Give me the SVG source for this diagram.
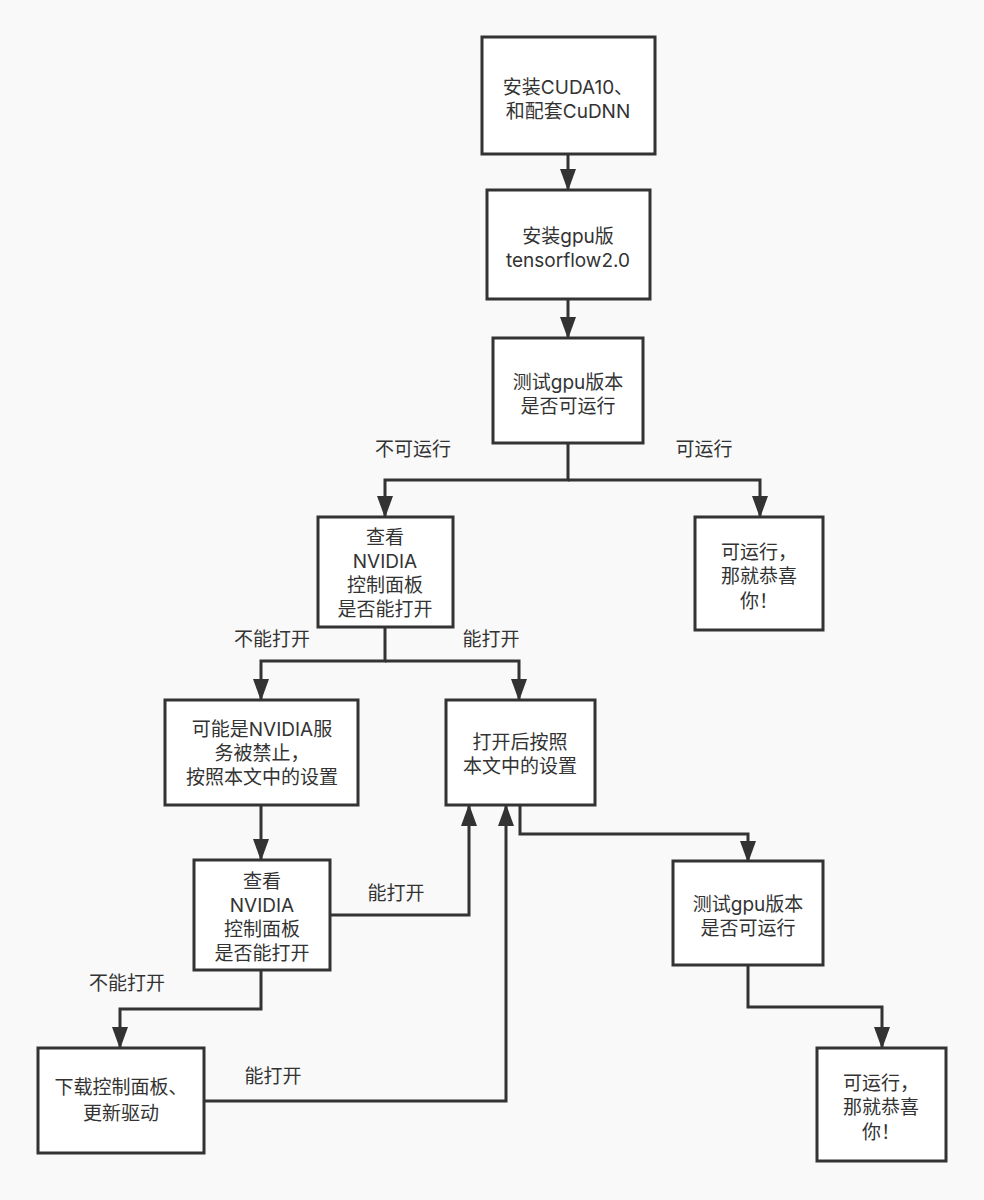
<svg xmlns="http://www.w3.org/2000/svg" width="984" height="1200" viewBox="0 0 984 1200">
<style>
.box{fill:#ffffff;stroke:#333333;stroke-width:3}
.t{font-family:Inter,"Noto Sans CJK SC",sans-serif;font-size:19px;fill:#333333;text-anchor:middle}
.c{fill:none;stroke:#333333;stroke-width:3;marker-end:url(#ah)}
</style>
<defs>
<marker id="ah" markerUnits="userSpaceOnUse" markerWidth="22" markerHeight="16" refX="21" refY="8" orient="auto" viewBox="0 0 22 16">
<path d="M0,0 L22,8 L0,16 Z" fill="#333333"/>
</marker>
</defs>
<rect x="0" y="0" width="984" height="1200" fill="#f9f9f9"/>
<g id="connectors">
<path class="c" d="M568,154 V190"/>
<path class="c" d="M568,299 V338"/>
<path class="c" d="M568,443 V480 H385 V517"/>
<path class="c" d="M568,480 H760 V517"/>
<path class="c" d="M385,627 V661 H261 V700"/>
<path class="c" d="M385,661 H519 V700"/>
<path class="c" d="M261,805 V860"/>
<path class="c" d="M330,915 H469 V805"/>
<path class="c" d="M261,970 V1009 H120 V1048"/>
<path class="c" d="M204,1101 H506 V805"/>
<path class="c" d="M520,805 V834 H748 V862"/>
<path class="c" d="M748,965 V1007 H882 V1048"/>
<text class="t" x="413" y="456">不可运行</text>
<text class="t" x="704" y="456">可运行</text>
<text class="t" x="272" y="646">不能打开</text>
<text class="t" x="491" y="646">能打开</text>
<text class="t" x="396" y="900">能打开</text>
<text class="t" x="127" y="990">不能打开</text>
<text class="t" x="273" y="1083">能打开</text>
</g>
<g id="n1"><rect class="box" x="482" y="37" width="173" height="117"/>
<text class="t" x="568" y="94"><tspan x="568">安装CUDA10、</tspan><tspan x="568" dy="24">和配套CuDNN</tspan></text></g>
<g id="n2"><rect class="box" x="487" y="190" width="163" height="109"/>
<text class="t" x="568" y="243"><tspan x="568">安装gpu版</tspan><tspan x="568" dy="24">tensorflow2.0</tspan></text></g>
<g id="n3"><rect class="box" x="493" y="338" width="150" height="105"/>
<text class="t" x="568" y="389"><tspan x="568">测试gpu版本</tspan><tspan x="568" dy="24">是否可运行</tspan></text></g>
<g id="n4"><rect class="box" x="318" y="517" width="135" height="110"/>
<text class="t" x="385" y="544"><tspan x="385">查看</tspan><tspan x="385" dy="24">NVIDIA</tspan><tspan x="385" dy="24">控制面板</tspan><tspan x="385" dy="24">是否能打开</tspan></text></g>
<g id="n5"><rect class="box" x="695" y="517" width="128" height="113"/>
<text class="t" x="759" y="559"><tspan x="759">可运行，</tspan><tspan x="759" dy="24">那就恭喜</tspan><tspan x="759" dy="25">你！</tspan></text></g>
<g id="n6"><rect class="box" x="165" y="700" width="193" height="105"/>
<text class="t" x="262" y="736"><tspan x="262">可能是NVIDIA服</tspan><tspan x="262" dy="24">务被禁止，</tspan><tspan x="262" dy="24">按照本文中的设置</tspan></text></g>
<g id="n7"><rect class="box" x="446" y="700" width="149" height="105"/>
<text class="t" x="520" y="749"><tspan x="520">打开后按照</tspan><tspan x="520" dy="24">本文中的设置</tspan></text></g>
<g id="n8"><rect class="box" x="194" y="860" width="136" height="110"/>
<text class="t" x="262" y="888"><tspan x="262">查看</tspan><tspan x="262" dy="24">NVIDIA</tspan><tspan x="262" dy="24">控制面板</tspan><tspan x="262" dy="24">是否能打开</tspan></text></g>
<g id="n9"><rect class="box" x="38" y="1048" width="166" height="105"/>
<text class="t" x="121" y="1094"><tspan x="121">下载控制面板、</tspan><tspan x="121" dy="26">更新驱动</tspan></text></g>
<g id="n10"><rect class="box" x="673" y="861" width="150" height="104"/>
<text class="t" x="748" y="911"><tspan x="748">测试gpu版本</tspan><tspan x="748" dy="24">是否可运行</tspan></text></g>
<g id="n11"><rect class="box" x="817" y="1048" width="129" height="113"/>
<text class="t" x="881" y="1090"><tspan x="881">可运行，</tspan><tspan x="881" dy="24">那就恭喜</tspan><tspan x="881" dy="25">你！</tspan></text></g>
</svg>
